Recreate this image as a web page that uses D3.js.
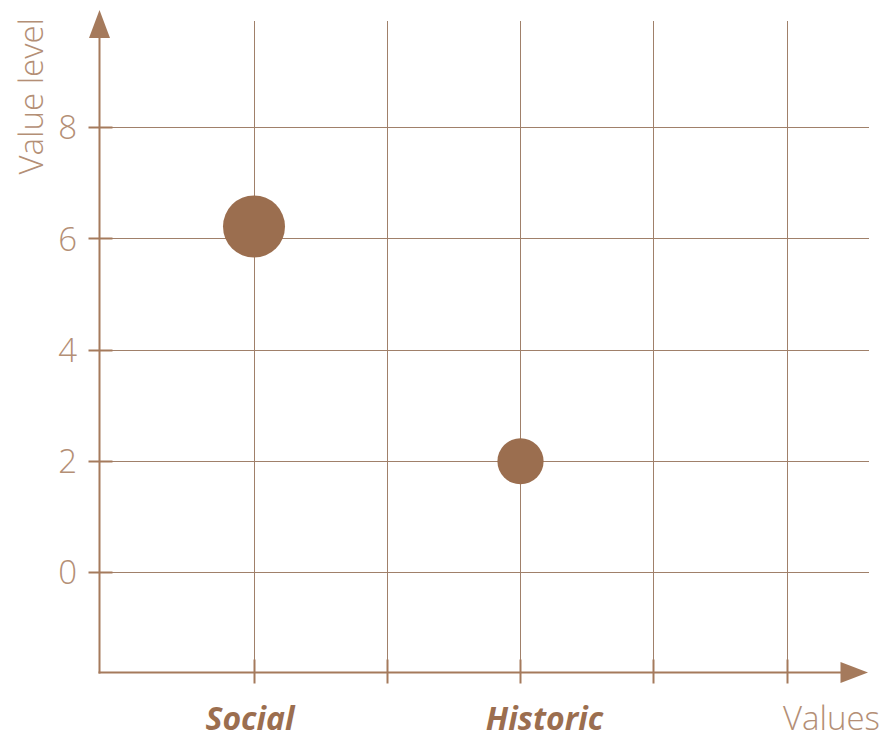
<!DOCTYPE html>
<html>
<head>
<meta charset="utf-8">
<script src="https://cdn.jsdelivr.net/npm/d3@7"></script>
<style>
  html, body { margin: 0; padding: 0; background: #ffffff; }
  svg { display: block; }
</style>
</head>
<body>
<svg id="chart" width="884" height="739"></svg>
<script>
// ---- data ----
const categories = ["Social", "cat2", "Historic", "cat4", "cat5"];
const categoryLabels = ["Social", "", "Historic", "", ""];
const yTicks = [0, 2, 4, 6, 8];
const pointCategories = ["Social", "Historic"];
const pointValues = [6.22, 2.0];
const pointSizes = [9, 5];
const xAxisTitle = "Values";
const yAxisTitle = "Value level";

// ---- layout / style ----
const axisX = 99.5, axisY = 672.5;
const axisColor = "#a57a5c";
const gridColor = "#a0806a";
const textColor = "#b48f76";
const pointColor = "#9b6e4f";
const labelNudge = { "Social": -4, "Historic": 24 };
const lightFont = "'Open Sans', 'DejaVu Sans', sans-serif";

const svg = d3.select("#chart");

const x = d3.scalePoint().domain(categories).range([254, 787]);
const y = d3.scaleLinear().domain([0, 8]).range([572.5, 127.5]);
const r = d3.scaleSqrt().domain([0, d3.max(pointSizes)]).range([0, 31]);
const crisp = v => Math.round(v - 0.5) + 0.5;

// horizontal grid lines
svg.append("g").selectAll("line").data(yTicks).join("line")
  .attr("x1", axisX + 12).attr("x2", 869)
  .attr("y1", d => crisp(y(d))).attr("y2", d => crisp(y(d)))
  .attr("stroke", gridColor).attr("stroke-width", 1);

// vertical grid lines
svg.append("g").selectAll("line").data(categories).join("line")
  .attr("x1", d => crisp(x(d))).attr("x2", d => crisp(x(d)))
  .attr("y1", 21).attr("y2", axisY - 12)
  .attr("stroke", gridColor).attr("stroke-width", 1);

// axes lines
svg.append("line")
  .attr("x1", axisX).attr("x2", axisX)
  .attr("y1", 36).attr("y2", axisY + 1)
  .attr("stroke", axisColor).attr("stroke-width", 2);
svg.append("line")
  .attr("x1", axisX - 1).attr("x2", 843)
  .attr("y1", axisY).attr("y2", axisY)
  .attr("stroke", axisColor).attr("stroke-width", 2);

// arrows
svg.append("path")
  .attr("d", `M${axisX},10 L${axisX + 10.5},38 L${axisX - 10.5},38 Z`)
  .attr("fill", axisColor);
svg.append("path")
  .attr("d", `M868,${axisY} L840.5,${axisY - 10.5} L840.5,${axisY + 10.5} Z`)
  .attr("fill", axisColor);

// y ticks
svg.append("g").selectAll("line").data(yTicks).join("line")
  .attr("x1", axisX - 11).attr("x2", axisX + 13)
  .attr("y1", d => crisp(y(d))).attr("y2", d => crisp(y(d)))
  .attr("stroke", axisColor).attr("stroke-width", 2);

// x ticks
svg.append("g").selectAll("line").data(categories).join("line")
  .attr("x1", d => crisp(x(d))).attr("x2", d => crisp(x(d)))
  .attr("y1", axisY - 13).attr("y2", axisY + 11)
  .attr("stroke", axisColor).attr("stroke-width", 2);

// y tick labels
svg.append("g").selectAll("text").data(yTicks).join("text")
  .attr("x", 77).attr("y", d => y(d))
  .attr("dy", "0.36em")
  .attr("text-anchor", "end")
  .attr("font-family", lightFont).attr("font-weight", 300)
  .attr("font-size", 33).attr("fill", textColor)
  .text(d => d);

// x category labels
svg.append("g").selectAll("text").data(categories.map((c, i) => ({ c, label: categoryLabels[i] })))
  .join("text")
  .attr("x", d => x(d.c) + (labelNudge[d.c] || 0))
  .attr("y", 730)
  .attr("text-anchor", "middle")
  .attr("font-family", lightFont).attr("font-weight", 700).attr("font-style", "italic")
  .attr("font-size", 32).attr("fill", pointColor)
  .text(d => d.label);

// axis titles
svg.append("text")
  .attr("x", 880).attr("y", 730)
  .attr("text-anchor", "end")
  .attr("font-family", lightFont).attr("font-weight", 300)
  .attr("font-size", 33).attr("fill", textColor)
  .text(xAxisTitle);
svg.append("text")
  .attr("transform", "translate(43,18) rotate(-90)")
  .attr("text-anchor", "end")
  .attr("font-family", lightFont).attr("font-weight", 300)
  .attr("font-size", 33).attr("fill", textColor)
  .text(yAxisTitle);

// points
svg.append("g").selectAll("circle")
  .data(pointCategories.map((c, i) => ({ c, v: pointValues[i], s: pointSizes[i] })))
  .join("circle")
  .attr("cx", d => x(d.c))
  .attr("cy", d => y(d.v))
  .attr("r", d => r(d.s))
  .attr("fill", pointColor);
</script>
</body>
</html>
